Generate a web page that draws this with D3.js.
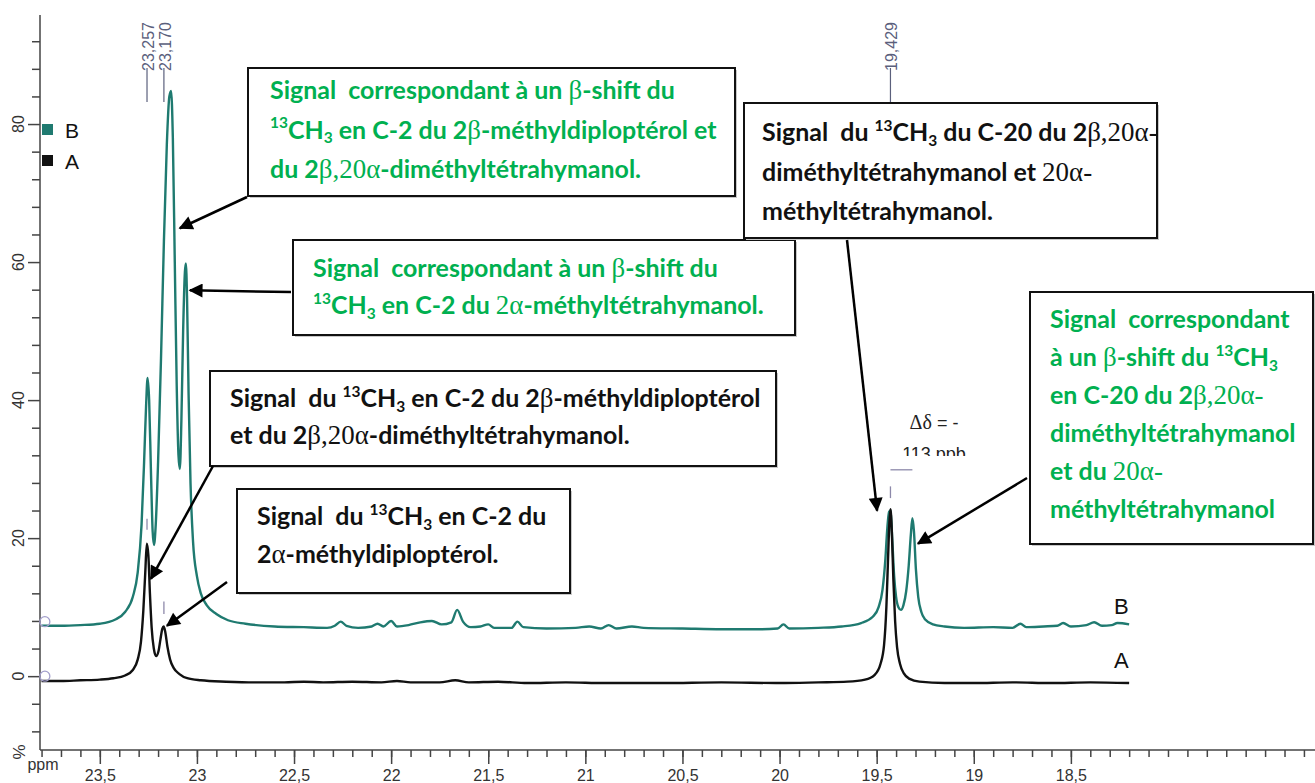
<!DOCTYPE html>
<html>
<head>
<meta charset="utf-8">
<script src="https://cdn.jsdelivr.net/npm/d3@7"></script>
<style>
  body { margin: 0; background: #fff; }
  svg { display: block; font-family: Arial, "Liberation Sans", sans-serif; }
  .axis path, .axis line { stroke: #444; stroke-width: 1.5; }
  .axis text { font-size: 16px; fill: #333; font-family: Arial, "Liberation Sans", sans-serif; }
</style>
</head>
<body>
<svg id="chart" width="1315" height="783"></svg>
<script>
// spectrum B (teal) : [ppm, %]
const specB = [
  [23.80, 7.3], [23.70, 7.3], [23.60, 7.4], [23.50, 7.6], [23.42, 8.2], [23.37, 9.3],
  [23.33, 11.5], [23.305, 15], [23.285, 22], [23.272, 31], [23.262, 39], [23.254, 43.2],
  [23.246, 40], [23.237, 30], [23.228, 21], [23.221, 19], [23.212, 22], [23.200, 31],
  [23.185, 46], [23.170, 63], [23.155, 77], [23.142, 84], [23.133, 84.8], [23.124, 78],
  [23.114, 60], [23.104, 42], [23.095, 32], [23.088, 30], [23.080, 37], [23.071, 50],
  [23.062, 58.5], [23.057, 59.8], [23.051, 55], [23.043, 41], [23.033, 28], [23.020, 19.5],
  [23.000, 14.5], [22.98, 12], [22.95, 10.3], [22.90, 9], [22.84, 8.1], [22.75, 7.6],
  [22.60, 7.2], [22.45, 7.1], [22.33, 7.0], [22.29, 7.3], [22.26, 7.9], [22.23, 7.3],
  [22.17, 7.0], [22.10, 7.2], [22.07, 7.6], [22.04, 7.2], [22.00, 8.0], [21.97, 7.2],
  [21.91, 7.4], [21.85, 7.8], [21.79, 8.0], [21.74, 7.5], [21.69, 7.8], [21.66, 9.6],
  [21.63, 7.9], [21.59, 7.1], [21.54, 7.2], [21.50, 7.5], [21.47, 7.0], [21.38, 7.0],
  [21.35, 7.9], [21.32, 7.1], [21.20, 6.9], [21.05, 7.0], [20.98, 7.2], [20.92, 6.9],
  [20.88, 7.4], [20.84, 6.9], [20.76, 7.2], [20.70, 7.0], [20.50, 6.9], [20.30, 6.8],
  [20.10, 6.8], [20.01, 6.9], [19.98, 7.5], [19.95, 6.9], [19.80, 7.0], [19.68, 7.2],
  [19.58, 7.7], [19.52, 8.6], [19.49, 10], [19.47, 12.5], [19.455, 17], [19.445, 21.5],
  [19.436, 23.8], [19.428, 24], [19.420, 20], [19.410, 14.5], [19.400, 11.5], [19.388, 10],
  [19.375, 9.6], [19.362, 10.3], [19.348, 12.3], [19.335, 16], [19.324, 20.5], [19.316, 22.9],
  [19.308, 21], [19.298, 15.5], [19.286, 11.5], [19.27, 9.3], [19.25, 8.2], [19.21, 7.5],
  [19.15, 7.2], [19.05, 7.0], [18.90, 7.1], [18.80, 7.0], [18.76, 7.6], [18.73, 7.1],
  [18.64, 7.2], [18.57, 7.3], [18.54, 7.7], [18.50, 7.2], [18.42, 7.4], [18.38, 7.8],
  [18.34, 7.3], [18.29, 7.4], [18.26, 7.7], [18.20, 7.5]
];

// spectrum A (black) : [ppm, %]
const specA = [
  [23.80, -0.7], [23.70, -0.7], [23.60, -0.6], [23.50, -0.5], [23.43, -0.3], [23.37, 0.1],
  [23.33, 0.9], [23.305, 2.4], [23.288, 5], [23.276, 9.5], [23.266, 15], [23.258, 19.2],
  [23.250, 17.5], [23.242, 12], [23.233, 7], [23.222, 4], [23.210, 2.9], [23.198, 3.6],
  [23.188, 5.3], [23.178, 6.9], [23.171, 7.2], [23.163, 6.4], [23.152, 4.3], [23.138, 2.4],
  [23.12, 1.2], [23.09, 0.3], [23.05, -0.3], [22.98, -0.6], [22.85, -0.8], [22.70, -0.9],
  [22.55, -0.9], [22.45, -0.8], [22.35, -0.9], [22.20, -0.8], [22.05, -0.9], [21.97, -0.7],
  [21.90, -0.9], [21.75, -0.9], [21.67, -0.6], [21.60, -0.9], [21.45, -0.8], [21.30, -1.0],
  [21.10, -0.9], [20.90, -1.0], [20.60, -1.0], [20.30, -0.9], [20.00, -1.0], [19.80, -0.9],
  [19.65, -0.8], [19.56, -0.5], [19.51, 0.2], [19.48, 1.8], [19.462, 4.5], [19.450, 10],
  [19.442, 16.5], [19.435, 22], [19.429, 24.2], [19.422, 21], [19.414, 14], [19.405, 8],
  [19.395, 4.2], [19.38, 1.8], [19.36, 0.4], [19.33, -0.4], [19.28, -0.8], [19.15, -1.0],
  [19.00, -1.0], [18.80, -0.9], [18.60, -1.0], [18.40, -0.9], [18.20, -1.0]
];

const yMajor = [0, 20, 40, 60, 80];
const yMinor = [-8, -4, 4, 8, 12, 16, 24, 28, 32, 36, 44, 48, 52, 56, 64, 68, 72, 76, 84, 88, 92];
const xMajor = [23.5, 23, 22.5, 22, 21.5, 21, 20.5, 20, 19.5, 19, 18.5];
const xMinor = d3.range(238, 172, -1).map(d => d / 10);

const peakPpm = [23.257, 23.170, 19.429];
const peakLabels = ["23,257", "23,170", "19,429"];

// small marks above the A peaks and the delta-delta bar
const markPpm = [23.257, 23.170, 19.429];
const markTop = [22.8, 10.8, 27.5];
const markBottom = [21.2, 9.0, 25.8];
const deltaPpm = [19.429, 19.316];
const deltaLevel = 29.9;

const seriesNames = ["B", "A"];
const seriesColors = ["#1f7a70", "#111111"];
const seriesOffsets = [7.9, 0];

const svg = d3.select("#chart");
const x = d3.scaleLinear().domain([23.808, 17.243]).range([40, 1315]);
const y = d3.scaleLinear().domain([-10.7, 95.8]).range([750, 15]);

// axes
svg.append("g").attr("class", "axis")
  .attr("transform", "translate(40,0)")
  .call(d3.axisLeft(y).tickValues(yMinor).tickSize(8).tickFormat(""))
  .call(g => g.select(".domain").remove());
svg.append("g").attr("class", "axis")
  .attr("transform", "translate(40,0)")
  .call(d3.axisLeft(y).tickValues(yMajor).tickSize(12).tickFormat(""))
  .call(g => g.select(".domain").remove());
svg.append("line").attr("x1", 40).attr("x2", 40).attr("y1", 15).attr("y2", 750)
  .attr("stroke", "#444").attr("stroke-width", 1.5);

svg.append("g").selectAll("text").data(yMajor).enter().append("text")
  .attr("transform", d => `translate(18,${y(d)}) rotate(-90)`)
  .attr("text-anchor", "middle").attr("dy", "0.35em")
  .attr("font-size", 16).attr("fill", "#333")
  .text(d => d);
svg.append("text").attr("transform", "translate(19,752) rotate(-90)")
  .attr("text-anchor", "middle").attr("dy", "0.35em")
  .attr("font-size", 17).attr("fill", "#333").text("%");

svg.append("g").attr("class", "axis")
  .attr("transform", "translate(0,750)")
  .call(d3.axisBottom(x).tickValues(xMinor).tickSize(7).tickFormat(""))
  .call(g => g.select(".domain").remove());
svg.append("g").attr("class", "axis")
  .attr("transform", "translate(0,750)")
  .call(d3.axisBottom(x).tickValues(xMajor).tickSize(14).tickPadding(6)
    .tickFormat(d => String(d).replace(".", ",")))
  .call(g => g.select(".domain").remove());
svg.append("line").attr("x1", 40).attr("x2", 1315).attr("y1", 750).attr("y2", 750)
  .attr("stroke", "#444").attr("stroke-width", 1.5);
svg.append("text").attr("x", 43).attr("y", 770).attr("text-anchor", "middle")
  .attr("font-size", 16).attr("fill", "#333").text("ppm");

// spectra
const line = d3.line().x(d => x(d[0])).y(d => y(d[1])).curve(d3.curveMonotoneX);
svg.append("path").datum(specB).attr("d", line)
  .attr("fill", "none").attr("stroke", seriesColors[0]).attr("stroke-width", 2.4);
svg.append("path").datum(specA).attr("d", line)
  .attr("fill", "none").attr("stroke", seriesColors[1]).attr("stroke-width", 2.4);

// offset circles
svg.append("g").selectAll("circle").data(seriesOffsets).enter().append("circle")
  .attr("cx", x(23.783)).attr("cy", d => y(d)).attr("r", 5)
  .attr("fill", "none").attr("stroke", "#a39fcc").attr("stroke-width", 1.3);

// legend
const legend = svg.append("g");
seriesNames.forEach((name, i) => {
  legend.append("rect").attr("x", 42).attr("y", 124 + i * 31).attr("width", 11).attr("height", 11)
    .attr("fill", seriesColors[i]);
  legend.append("text").attr("x", 65).attr("y", 138 + i * 31)
    .attr("font-size", 21).attr("fill", "#111").text(name);
});

// series labels at the right end
seriesNames.forEach((name, i) => {
  svg.append("text").attr("x", x(18.24)).attr("y", y(seriesOffsets[i] - 1) - 15)
    .attr("text-anchor", "middle").attr("font-size", 22).attr("fill", "#111").text(name);
});

// peak labels
const pk = svg.append("g").attr("fill", "#5b607c").attr("stroke", "#5b607c");
peakPpm.forEach((p, i) => {
  pk.append("line").attr("x1", x(p)).attr("x2", x(p)).attr("y1", 68).attr("y2", 102)
    .attr("stroke-width", 1.2);
  pk.append("text").attr("transform", `translate(${x(p) + 1},71) rotate(-90)`)
    .attr("dy", "0.35em").attr("font-size", 16).attr("stroke", "none").text(peakLabels[i]);
});
markPpm.forEach((p, i) => {
  svg.append("line").attr("x1", x(p)).attr("x2", x(p))
    .attr("y1", y(markTop[i])).attr("y2", y(markBottom[i]))
    .attr("stroke", "#8d89aa").attr("stroke-width", 1.3);
});
svg.append("line").attr("x1", x(deltaPpm[0])).attr("x2", x(deltaPpm[1]))
  .attr("y1", y(deltaLevel)).attr("y2", y(deltaLevel))
  .attr("stroke", "#8d89aa").attr("stroke-width", 1.3);

svg.append("clipPath").attr("id", "dclip").append("rect")
  .attr("x", 880).attr("y", 400).attr("width", 120).attr("height", 56);
const dg = svg.append("g").attr("clip-path", "url(#dclip)").attr("fill", "#222");
const t1 = dg.append("text").attr("x", 934).attr("y", 429).attr("text-anchor", "middle").attr("font-size", 18);
t1.append("tspan").attr("font-family", "'Liberation Serif', serif").attr("font-size", 20).text("Δδ");
t1.append("tspan").text(" = -");
dg.append("text").attr("x", 934).attr("y", 460).attr("text-anchor", "middle").attr("font-size", 18).text("113 ppb");

// annotation boxes
const green = "#00b050";
const boxes = [
  { x: 248, y: 68, w: 487, h: 128, tx: 270, ty: 99, lh: 39.5, color: green, lines: [
    [["Signal  correspondant à un ", ""], ["β", "g"], ["-shift du", ""]],
    [["13", "sup"], ["CH", ""], ["3", "sub"], [" en C-2 du 2", ""], ["β", "g"], ["-méthyldiploptérol et", ""]],
    [["du 2", ""], ["β,20α", "g"], ["-diméthyltétrahymanol.", ""]]
  ]},
  { x: 293, y: 240, w: 502, h: 95, tx: 313, ty: 277, lh: 37, color: green, lines: [
    [["Signal  correspondant à un ", ""], ["β", "g"], ["-shift du", ""]],
    [["13", "sup"], ["CH", ""], ["3", "sub"], [" en C-2 du ", ""], ["2α", "g"], ["-méthyltétrahymanol.", ""]]
  ]},
  { x: 744, y: 103, w: 413, h: 135, tx: 762, ty: 141, lh: 39.5, color: "#111", lines: [
    [["Signal  du ", ""], ["13", "sup"], ["CH", ""], ["3", "sub"], [" du C-20 du 2", ""], ["β,20α-", "g"]],
    [["diméthyltétrahymanol et ", ""], ["20α-", "g"]],
    [["méthyltétrahymanol.", ""]]
  ]},
  { x: 1030, y: 292, w: 283, h: 252, tx: 1050, ty: 328, lh: 38, color: green, lines: [
    [["Signal  correspondant", ""]],
    [["à un ", ""], ["β", "g"], ["-shift du ", ""], ["13", "sup"], ["CH", ""], ["3", "sub"]],
    [["en C-20 du 2", ""], ["β,20α-", "g"]],
    [["diméthyltétrahymanol", ""]],
    [["et du ", ""], ["20α-", "g"]],
    [["méthyltétrahymanol", ""]]
  ]},
  { x: 210, y: 371, w: 566, h: 95, tx: 230, ty: 407, lh: 37, color: "#111", lines: [
    [["Signal  du ", ""], ["13", "sup"], ["CH", ""], ["3", "sub"], [" en C-2 du 2", ""], ["β", "g"], ["-méthyldiploptérol", ""]],
    [["et du 2", ""], ["β,20α", "g"], ["-diméthyltétrahymanol.", ""]]
  ]},
  { x: 237, y: 489, w: 333, h: 104, tx: 257, ty: 525, lh: 38, color: "#111", lines: [
    [["Signal  du ", ""], ["13", "sup"], ["CH", ""], ["3", "sub"], [" en C-2 du", ""]],
    [["2", ""], ["α", "g"], ["-méthyldiploptérol.", ""]]
  ]}
];

// arrows: start in page space, tip in data space [ppm, %]
const arrowStart = [[247, 197], [291, 292], [213, 466], [227, 582], [847, 240], [1027, 478]];
const arrowTip = [[23.088, 64.9], [23.036, 55.9], [23.237, 14.1], [23.154, 7.3], [19.498, 24.0], [19.287, 19.2]];

svg.append("defs").append("marker").attr("id", "head")
  .attr("viewBox", "0 0 10 10").attr("refX", 9).attr("refY", 5)
  .attr("markerWidth", 19).attr("markerHeight", 14).attr("markerUnits", "userSpaceOnUse")
  .attr("orient", "auto")
  .append("path").attr("d", "M0,0L10,5L0,10z").attr("fill", "#000");

const fontBase = 20;
const sans = "Lato, 'Open Sans', sans-serif";
const serif = "'Liberation Serif', 'Times New Roman', serif";

// fit the font so the first line of box 1 matches its width in the figure
const probe = svg.append("text").attr("font-family", sans).attr("font-weight", "bold")
  .attr("font-size", fontBase).style("white-space", "pre");
function fillLine(t, segs, fs) {
  let shift = 0;
  segs.forEach(([s, k]) => {
    const ts = t.append("tspan").text(s);
    let target = 0;
    if (k === "g") ts.attr("font-family", serif).attr("font-weight", "normal").attr("font-size", fs * 1.08);
    if (k === "sup") { ts.attr("font-size", fs * 0.62); target = -fs * 0.42; }
    if (k === "sub") { ts.attr("font-size", fs * 0.62); target = fs * 0.2; }
    ts.attr("dy", target - shift);
    shift = target;
  });
}
fillLine(probe, boxes[0].lines[0], fontBase);
const fs = fontBase * 405 / probe.node().getComputedTextLength();
probe.remove();

const bg = svg.append("g");
boxes.forEach(b => {
  bg.append("rect").attr("x", b.x + 2).attr("y", b.y + 2).attr("width", b.w).attr("height", b.h)
    .attr("fill", "#c8c8c8");
  bg.append("rect").attr("x", b.x).attr("y", b.y).attr("width", b.w).attr("height", b.h)
    .attr("fill", "#fff").attr("stroke", "#111").attr("stroke-width", 2);
  b.lines.forEach((segs, i) => {
    const t = bg.append("text").attr("x", b.tx).attr("y", b.ty + i * b.lh)
      .attr("font-family", sans).attr("font-weight", "bold").attr("font-size", fs)
      .attr("fill", b.color).style("white-space", "pre");
    fillLine(t, segs, fs);
  });
});

svg.append("g").selectAll("line").data(arrowStart).enter().append("line")
  .attr("x1", d => d[0]).attr("y1", d => d[1])
  .attr("x2", (d, i) => x(arrowTip[i][0])).attr("y2", (d, i) => y(arrowTip[i][1]))
  .attr("stroke", "#000").attr("stroke-width", 2.5).attr("marker-end", "url(#head)");
</script>
</body>
</html>
